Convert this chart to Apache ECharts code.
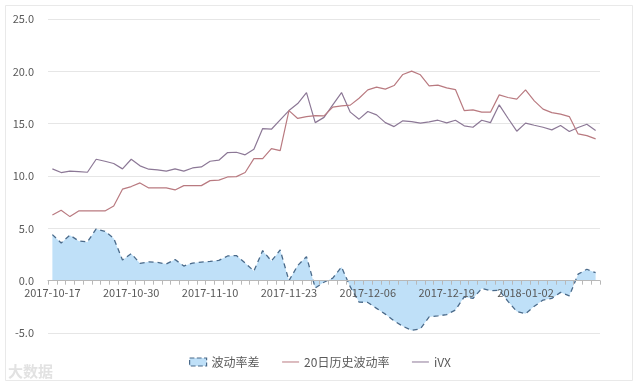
<!DOCTYPE html>
<html>
<head>
<meta charset="utf-8">
<script src="https://cdn.jsdelivr.net/npm/echarts@6/dist/echarts.min.js"></script>
<style>html,body{margin:0;padding:0;background:#fff;}#c{width:640px;height:387px;}</style>
</head>
<body>
<div id="c"></div>
<script>
const dates = [
'2017-10-17','2017-10-18','2017-10-19','2017-10-20','2017-10-23','2017-10-24','2017-10-25','2017-10-26','2017-10-27','2017-10-30','2017-10-31',
'2017-11-01','2017-11-02','2017-11-03','2017-11-06','2017-11-07','2017-11-08','2017-11-09','2017-11-10','2017-11-13','2017-11-14','2017-11-15','2017-11-16','2017-11-17','2017-11-20','2017-11-21','2017-11-22','2017-11-23','2017-11-24','2017-11-27','2017-11-28','2017-11-29','2017-11-30',
'2017-12-01','2017-12-04','2017-12-05','2017-12-06','2017-12-07','2017-12-08','2017-12-11','2017-12-12','2017-12-13','2017-12-14','2017-12-15','2017-12-18','2017-12-19','2017-12-20','2017-12-21','2017-12-22','2017-12-25','2017-12-26','2017-12-27','2017-12-28','2017-12-29',
'2018-01-02','2018-01-03','2018-01-04','2018-01-05','2018-01-08','2018-01-09','2018-01-10','2018-01-11','2018-01-12'
];
const volSpread = [
4.4,3.6,4.35,3.8,3.7,4.94,4.72,4.05,1.98,2.58,
1.66,1.8,1.74,1.6,2.02,1.4,1.68,1.78,1.84,1.94,
2.36,2.4,1.68,0.92,2.87,1.88,2.93,0.0,1.45,2.3,
-0.7,-0.15,0.25,1.3,-0.6,-2.05,-2.08,-2.65,-3.2,-3.85,
-4.35,-4.75,-4.6,-3.46,-3.36,-3.25,-2.8,-1.55,-1.7,-0.75,
-0.95,-0.92,-1.98,-2.95,-3.15,-2.45,-1.85,-1.7,-1.12,-1.45,
0.62,1.09,0.76
];
const hv20 = [
6.28,6.73,6.12,6.66,6.66,6.66,6.66,7.14,8.74,8.99,
9.34,8.86,8.86,8.86,8.67,9.08,9.08,9.08,9.56,9.6,
9.91,9.94,10.33,11.66,11.66,12.62,12.43,16.25,15.5,15.68,
15.77,15.75,16.58,16.7,16.77,17.43,18.23,18.49,18.3,18.64,
19.7,20.02,19.67,18.61,18.68,18.42,18.26,16.25,16.32,16.1,
16.1,17.75,17.5,17.34,18.23,17.18,16.39,16.06,15.91,15.68,
14.02,13.86,13.55
];
const ivx = [
10.68,10.33,10.46,10.42,10.36,11.6,11.41,11.19,10.68,11.6,
10.97,10.65,10.58,10.46,10.68,10.46,10.77,10.87,11.41,11.51,
12.24,12.27,12.02,12.56,14.53,14.47,15.36,16.25,16.92,17.97,
15.1,15.6,16.8,17.97,16.1,15.43,16.16,15.84,15.1,14.72,
15.27,15.2,15.05,15.17,15.33,15.08,15.33,14.79,14.66,15.33,
15.1,16.8,15.52,14.28,15.05,14.85,14.66,14.41,14.82,14.25,
14.63,14.95,14.34
];
const seriesNames = ['波动率差','20日历史波动率','iVX'];
const yMin = -5, yMax = 25, yStep = 5;

const font = '"Noto Sans CJK SC", "Noto Sans", sans-serif';
const gridTop = 19, gridBottom = 54, H = 387;
const plotH = H - gridTop - gridBottom;
const zeroOffset = -plotH * (0 - yMin) / (yMax - yMin);

const chart = echarts.init(document.getElementById('c'), null, {renderer:'canvas'});
chart.setOption({
  animation: false,
  backgroundColor: '#fff',
  textStyle: {fontFamily: font},
  graphic: [
    {type:'rect', shape:{x:5.5, y:5.5, width:627, height:375}, style:{fill:'none', stroke:'#e9e9e9', lineWidth:1}, z:-1},
    {type:'text', left:8, top:364, style:{text:'大数据', fill:'#e2e2e2', font:'bold 15px ' + font}}
  ],
  grid: {left:48, right:40, top:gridTop, bottom:gridBottom},
  legend: {
    bottom: 14,
    left: 'center',
    itemWidth: 17,
    itemHeight: 8,
    itemGap: 22,
    textStyle: {color:'#595959', fontSize:12, fontFamily: font},
    data: [
      {name: seriesNames[0], icon:'rect', itemStyle:{color:'#bfe0f8', borderColor:'#4a6a8a', borderWidth:1.2, borderType:'dashed'}},
      {name: seriesNames[1], itemStyle:{opacity:0}, lineStyle:{width:1}},
      {name: seriesNames[2], itemStyle:{opacity:0}, lineStyle:{width:1}}
    ]
  },
  xAxis: {
    type: 'category',
    data: dates,
    boundaryGap: true,
    position: 'bottom',
    offset: zeroOffset,
    z: 10,
    axisLine: {onZero:false, lineStyle:{color:'#b8b8b8', width:1}},
    axisTick: {show:true, interval:0, length:4, lineStyle:{color:'#b8b8b8'}},
    axisLabel: {interval:8, color:'#595959', fontSize:11, margin:7, fontFamily: font},
    splitLine: {show:false}
  },
  yAxis: {
    type: 'value',
    min: yMin, max: yMax, interval: yStep,
    axisLine: {show:false},
    axisTick: {show:false},
    axisLabel: {color:'#595959', fontSize:11, margin:14, fontFamily: font, formatter: v => v.toFixed(1)},
    splitLine: {lineStyle:{color:'#e6e6e6', width:1}}
  },
  series: [
    {
      name: seriesNames[0], type:'line', data: volSpread, symbol:'none',
      lineStyle:{color:'#4a6a8a', width:1.3, type:[5,4]},
      itemStyle:{color:'#4a6a8a'},
      areaStyle:{color:'#bfe0f8', opacity:1, origin:0},
      z: 1
    },
    {
      name: seriesNames[1], type:'line', data: hv20, symbol:'none',
      lineStyle:{color:'#b97a80', width:1.2},
      itemStyle:{color:'#b97a80'},
      z: 3
    },
    {
      name: seriesNames[2], type:'line', data: ivx, symbol:'none',
      lineStyle:{color:'#8c7896', width:1.2},
      itemStyle:{color:'#8c7896'},
      z: 2
    }
  ]
});
</script>
</body>
</html>
